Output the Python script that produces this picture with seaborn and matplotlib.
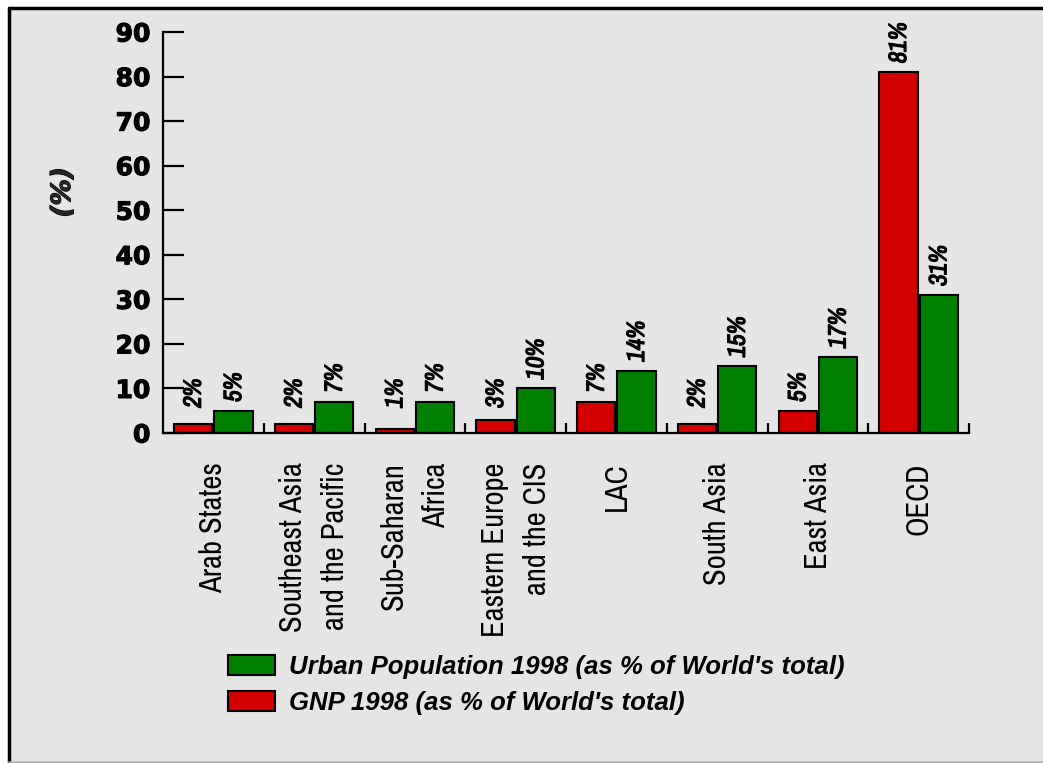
import pandas as pd
import matplotlib
matplotlib.use('Agg')
import matplotlib.pyplot as plt
from matplotlib import font_manager
import matplotlib.patheffects as pe
from matplotlib.patches import Rectangle, Patch
from matplotlib.lines import Line2D
from matplotlib.ticker import FixedLocator
import seaborn as sns

# chart data
regions = ['Arab States', 'Southeast Asia\nand the Pacific', 'Sub-Saharan\nAfrica',
           'Eastern Europe\nand the CIS', 'LAC', 'South Asia', 'East Asia', 'OECD']
gnp = [2, 2, 1, 3, 7, 2, 5, 81]
urban = [5, 7, 7, 10, 14, 15, 17, 31]
gnp_name = "GNP 1998 (as % of World's total)"
urban_name = "Urban Population 1998 (as % of World's total)"
yticks = [0, 10, 20, 30, 40, 50, 60, 70, 80, 90]

red = '#d40000'
green = '#008000'
bg = '#e5e5e5'

df = pd.DataFrame({
    'region': regions * 2,
    'series': [gnp_name] * len(regions) + [urban_name] * len(regions),
    'value': gnp + urban,
})

sns.set_style('white')
plt.rcParams['font.family'] = ['DejaVu Sans']
plt.rcParams['text.color'] = 'black'
plt.rcParams['xtick.color'] = 'black'
plt.rcParams['ytick.color'] = 'black'

# look for a narrow face, otherwise fall back to DejaVu
narrow, scale = 'DejaVu Sans', 0.8
for f in font_manager.fontManager.ttflist:
    if 'Narrow' in f.name or 'Condensed' in f.name:
        narrow, scale = f.name, 1.0
        break
# the narrow face has no bold, so thicken it with a stroke
heavy = [pe.withStroke(linewidth=0.9, foreground='black')]

fig = plt.figure(figsize=(10.43, 7.63), dpi=100, facecolor='white')

# grey panel with black border on top/left
fig.add_artist(Rectangle((8 / 1043, 0), 1 - 8 / 1043, 1 - 8 / 763, transform=fig.transFigure,
                         facecolor=bg, edgecolor='none', zorder=-10))
fig.add_artist(Line2D([8.5 / 1043, 8.5 / 1043], [0, 1 - 7.5 / 763], transform=fig.transFigure,
                      color='black', lw=2.5))
fig.add_artist(Line2D([8.5 / 1043, 1], [1 - 7.5 / 763, 1 - 7.5 / 763], transform=fig.transFigure,
                      color='black', lw=2.5))
fig.add_artist(Line2D([8.5 / 1043, 1], [1.5 / 763, 1.5 / 763], transform=fig.transFigure,
                      color='#b0b0b0', lw=1.2))

ax = fig.add_axes([163 / 1043, (763 - 433) / 763, (969 - 163) / 1043, (433 - 32) / 763])
ax.set_facecolor('none')

sns.barplot(data=df, x='region', y='value', hue='series', hue_order=[gnp_name, urban_name],
            palette=[red, green], saturation=1, edgecolor='black', linewidth=1.5,
            width=0.8, gap=0.05, legend=False, ax=ax)

ax.set_xlim(-0.5, len(regions) - 0.5)
ax.set_ylim(0, 90)
ax.set_yticks(yticks)
ax.set_yticklabels([str(t) for t in yticks], fontsize=18, fontweight='bold')
for t in ax.get_yticklabels():
    t.set_path_effects([pe.withStroke(linewidth=0.8, foreground='black')])
ax.tick_params(axis='y', left=True, direction='in', length=15, width=1.6, pad=9)

ax.set_xticks(range(len(regions)))
ax.set_xticklabels(regions, rotation=90, family=narrow, fontsize=22 * scale,
                   ha='center', va='top', multialignment='right', linespacing=1.6)
ax.tick_params(axis='x', which='major', bottom=True, length=0, pad=21)
ax.xaxis.set_minor_locator(FixedLocator([i + 0.5 for i in range(len(regions))]))
ax.tick_params(axis='x', which='minor', bottom=True, direction='in', length=7, width=1.6)

for side in ['top', 'right']:
    ax.spines[side].set_visible(False)
for side in ['left', 'bottom']:
    ax.spines[side].set_linewidth(1.6)
    ax.spines[side].set_color('black')

ax.set_xlabel('')
ax.set_ylabel('(%)', fontsize=19, fontweight='bold', fontstyle='italic')
ax.yaxis.label.set_path_effects([pe.withStroke(linewidth=0.8, foreground='black')])
ax.yaxis.set_label_coords(-0.108, 0.60)

# value labels above bars
for cont in ax.containers:
    for bar in cont:
        h = bar.get_height()
        ax.text(bar.get_x() + bar.get_width() / 2, max(h + 2, 5.6), f'{h:.0f}%',
                rotation=90, ha='center', va='bottom', family=narrow,
                fontsize=18 * scale, fontweight='bold', fontstyle='italic', clip_on=False,
                path_effects=heavy)

handles = [Patch(facecolor=green, edgecolor='black', linewidth=1.5, label=urban_name),
           Patch(facecolor=red, edgecolor='black', linewidth=1.5, label=gnp_name)]
leg = fig.legend(handles=handles, loc='upper left', bbox_to_anchor=(228 / 1043, 1 - 655 / 763),
                 frameon=False,
                 prop={'family': ['Liberation Sans', 'DejaVu Sans'], 'size': 18.5,
                       'weight': 'bold', 'style': 'italic'},
                 handlelength=1.83, handleheight=0.85, handletextpad=0.55, labelspacing=0.45,
                 borderpad=0, borderaxespad=0)

fig.savefig('out.png', dpi=100, facecolor='white')
